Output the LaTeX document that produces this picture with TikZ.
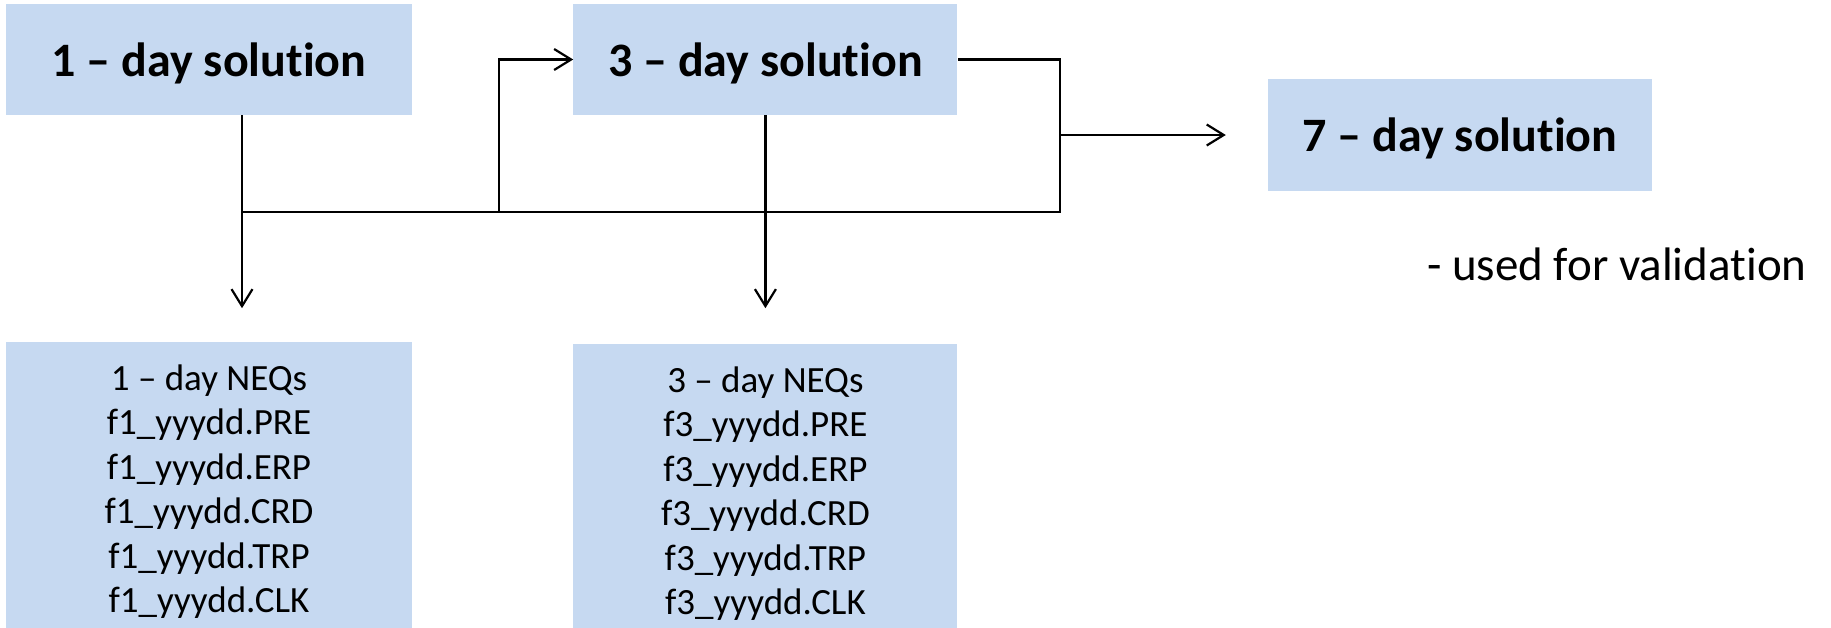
\documentclass[tikz,border=0pt]{standalone}
\usepackage{xcolor}
\usepackage{fontspec}
\setmainfont{Carlito}[Ligatures={TeX,NoCommon}]
\usepackage{tikz}
\usetikzlibrary{arrows.meta, positioning, calc}
\definecolor{boxblue}{HTML}{C6D9F1}
\tikzstyle{solblock} = [rectangle, fill=boxblue, minimum width=406, minimum height=111,
                        text centered, inner sep=0pt, text depth=0pt,
                        font=\fontsize{48}{52}\selectfont\bfseries]
\tikzstyle{neqblock} = [rectangle, fill=boxblue, minimum width=406, minimum height=298,
                        align=center, inner sep=0pt,
                        font=\fontsize{37}{44.5}\selectfont]
\tikzstyle{wire}     = [line width=2.2pt, color=black]
\tikzstyle{arrow}    = [wire, -{Straight Barb[length=17pt, width=21pt, line width=2.2pt]}]

\begin{document}
\begin{tikzpicture}[x=1pt, y=-1pt]
  \useasboundingbox (0,0) rectangle (1831,627);

  %% Solutions
  \node[solblock] (sol1) at (209,59.5) {1 – day solution};
  \node[solblock, minimum width=384, right=161pt of sol1] (sol3) {3 – day solution};
  \node[solblock, minimum width=384, minimum height=112] (sol7) at (1460,135)
        {7 – day solution};
  \node[font=\fontsize{47}{50}\selectfont, anchor=base west, inner sep=0pt] (note)
        at (1427,280) {- used for validation};

  %% NEQ files
  \node[neqblock, below=227pt of sol1] (neq1)
        {1 – day NEQs\\f1\_yyydd.PRE\\f1\_yyydd.ERP\\f1\_yyydd.CRD\\f1\_yyydd.TRP\\f1\_yyydd.CLK};
  \node[neqblock, minimum width=384, below=229pt of sol3] (neq3)
        {3 – day NEQs\\f3\_yyydd.PRE\\f3\_yyydd.ERP\\f3\_yyydd.CRD\\f3\_yyydd.TRP\\f3\_yyydd.CLK};

  %% Junctions
  \coordinate (out1) at ([xshift=33pt]sol1.south);
  \coordinate (bus) at ($(out1)+(0,97)$);
  \coordinate (up3) at (499,212);
  \coordinate (out3) at ([xshift=102pt]sol3.east);

  %% Arrows
  \draw[arrow, shorten >=34pt] (out1) -- (out1 |- neq1.north);
  \draw[wire] (bus) -- (out3 |- bus) -- (out3) -- (sol3.east);
  \draw[arrow] (up3) |- (sol3.west);
  \draw[arrow, shorten >=36pt] (sol3) -- (neq3);
  \draw[arrow, shorten >=42pt] (out3 |- sol7) -- (sol7.west);

\end{tikzpicture}
\end{document}
